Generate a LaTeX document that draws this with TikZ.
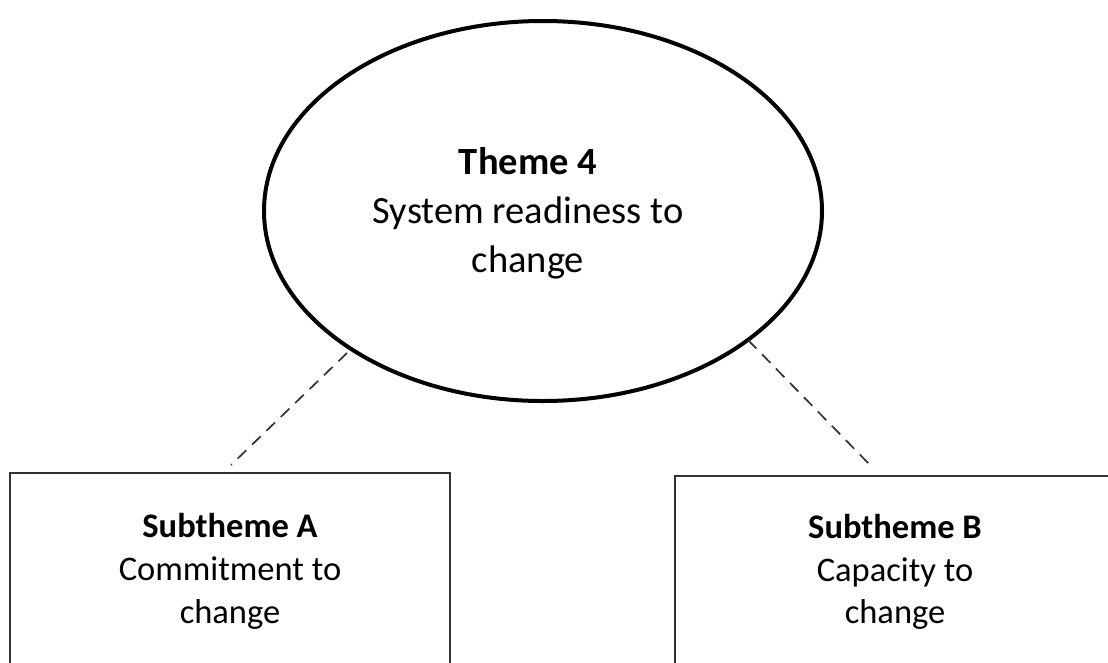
\documentclass[tikz,border=0pt]{standalone}
\usepackage{fontspec}
\setmainfont{Carlito}
\usetikzlibrary{shapes.geometric}
\begin{document}
\begin{tikzpicture}[x=1pt,y=-1pt,
  themeshape/.style={draw=black, line width=4pt, ellipse, minimum width=558pt, minimum height=380pt, inner sep=0pt},
  subbox/.style={draw=black!80, line width=2pt},
  linkline/.style={draw=black!80, line width=1.7pt, dash pattern=on 12pt off 8pt},
  bigtxt/.style={font=\fontsize{38.5}{48}\selectfont, anchor=base, inner sep=0pt},
  smalltxt/.style={font=\fontsize{34.5}{43}\selectfont, anchor=base, inner sep=0pt}
]
\clip (0,0) rectangle (1108,662);
\fill[white] (0,0) rectangle (1108,662);
% main theme ellipse
\node[themeshape] (theme) at (543,211) {};
\node[bigtxt] (t1) at (528,174) {\bfseries Theme 4};
\node[bigtxt] (t2) at (528,223) {System readiness to};
\node[bigtxt] (t3) at (528,272) {change};
% subtheme boxes
\draw[subbox] (10,473) rectangle (450,700);
\draw[subbox] (675,476) rectangle (1115,700);
\node[smalltxt] (a1) at (230,537) {\bfseries Subtheme A};
\node[smalltxt] (a2) at (230,580) {Commitment to};
\node[smalltxt] (a3) at (230,623) {change};
\node[smalltxt] (b1) at (895,538) {\bfseries Subtheme B};
\node[smalltxt] (b2) at (895,581) {Capacity to};
\node[smalltxt] (b3) at (895,623) {change};
% dashed links
\coordinate (eA) at (347,353);
\coordinate (eB) at (748,340);
\coordinate (boxAtop) at (231,465);
\coordinate (boxBtop) at (873,468);
\draw[linkline] (eA) -- (boxAtop);
\draw[linkline] (eB) -- (boxBtop);
\end{tikzpicture}
\end{document}
